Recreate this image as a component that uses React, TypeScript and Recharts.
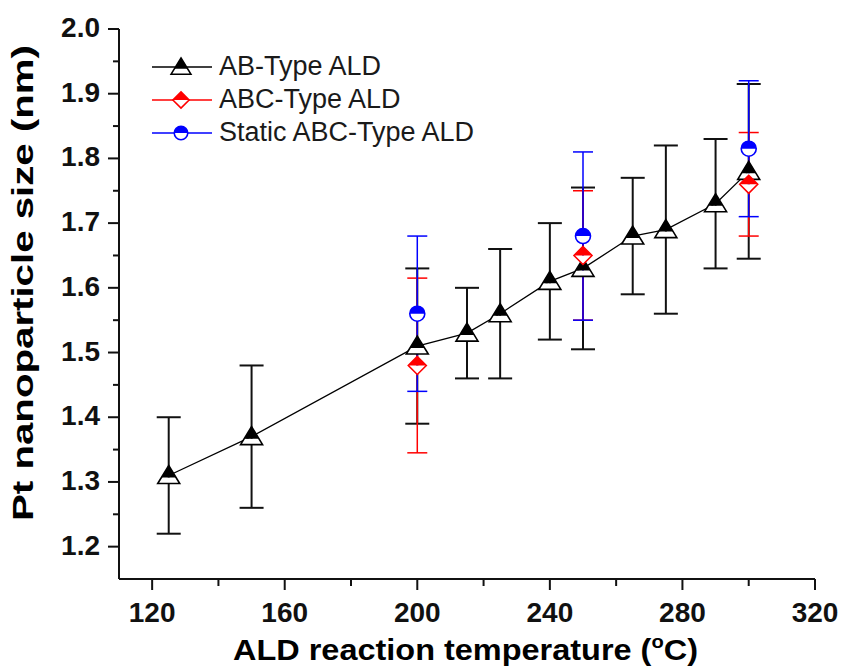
import {
  ComposedChart,
  ErrorBar,
  Legend,
  Scatter,
  XAxis,
  YAxis,
} from "recharts";

// AB-Type ALD
const abTemps = [125, 150, 200, 215, 225, 240, 250, 265, 275, 290, 300];
const abSizes = [1.31, 1.37, 1.51, 1.53, 1.56, 1.61, 1.63, 1.68, 1.69, 1.73, 1.78];
const abErrors = [0.09, 0.11, 0.12, 0.07, 0.1, 0.09, 0.125, 0.09, 0.13, 0.1, 0.135];

// ABC-Type ALD
const abcTemps = [200, 250, 300];
const abcSizes = [1.48, 1.65, 1.76];
const abcErrors = [0.135, 0.1, 0.08];

// Static ABC-Type ALD
const staticTemps = [200, 250, 300];
const staticSizes = [1.56, 1.68, 1.815];
const staticErrors = [0.12, 0.13, 0.105];

const xMajor = [120, 160, 200, 240, 280, 320];
const xTicks = [120, 140, 160, 180, 200, 220, 240, 260, 280, 300, 320];
const yMajor = [1.2, 1.3, 1.4, 1.5, 1.6, 1.7, 1.8, 1.9, 2.0];
const yTicks = [1.2, 1.25, 1.3, 1.35, 1.4, 1.45, 1.5, 1.55, 1.6, 1.65, 1.7, 1.75, 1.8, 1.85, 1.9, 1.95, 2.0];

const FONT = "'Liberation Sans', Arial, sans-serif";
const AXIS = "#111";

function toRows(t: number[], s: number[], e: number[]) {
  return t.map((v, i) => ({ t: v, s: s[i], e: e[i] }));
}

const abData = toRows(abTemps, abSizes, abErrors);
const abcData = toRows(abcTemps, abcSizes, abcErrors);
const staticData = toRows(staticTemps, staticSizes, staticErrors);

const isMajor = (list: number[], v: number) =>
  list.some((m) => Math.abs(m - v) < 1e-6);

function Triangle({ cx, cy, scale = 1 }: any) {
  if (cx == null || cy == null) return <g />;
  const top = cy - 10 * scale;
  const base = cy + 8 * scale;
  const half = 11 * scale;
  const mid = cy + 2 * scale;
  const midHalf = (half * (mid - top)) / (base - top);
  return (
    <g>
      <polygon
        points={`${cx - half},${base} ${cx + half},${base} ${cx + midHalf},${mid} ${cx - midHalf},${mid}`}
        fill="#fff"
      />
      <polygon points={`${cx},${top} ${cx + midHalf},${mid} ${cx - midHalf},${mid}`} fill="#000" />
      <polygon
        points={`${cx},${top} ${cx + half},${base} ${cx - half},${base}`}
        fill="none"
        stroke="#000"
        strokeWidth={1.6}
      />
    </g>
  );
}

function Diamond({ cx, cy, scale = 1 }: any) {
  if (cx == null || cy == null) return <g />;
  const r = 9 * scale;
  return (
    <g>
      <polygon points={`${cx - r},${cy} ${cx},${cy + r} ${cx + r},${cy}`} fill="#fff" />
      <polygon points={`${cx - r},${cy} ${cx},${cy - r} ${cx + r},${cy}`} fill="#ff0000" />
      <polygon
        points={`${cx},${cy - r} ${cx + r},${cy} ${cx},${cy + r} ${cx - r},${cy}`}
        fill="none"
        stroke="#ff0000"
        strokeWidth={1.6}
      />
    </g>
  );
}

function HalfCircle({ cx, cy, scale = 1 }: any) {
  if (cx == null || cy == null) return <g />;
  const r = 7.5 * scale;
  return (
    <g>
      <circle cx={cx} cy={cy} r={r} fill="#fff" />
      <path d={`M ${cx - r} ${cy} A ${r} ${r} 0 0 1 ${cx + r} ${cy} Z`} fill="#0000ff" />
      <circle cx={cx} cy={cy} r={r} fill="none" stroke="#0000ff" strokeWidth={1.6} />
    </g>
  );
}

const legendItems = [
  { name: "AB-Type ALD", color: "#000", Marker: Triangle },
  { name: "ABC-Type ALD", color: "#ff0000", Marker: Diamond },
  { name: "Static ABC-Type ALD", color: "#0000ff", Marker: HalfCircle },
];

function LegendBox() {
  return (
    <svg width={360} height={110} style={{ display: "block" }}>
      {legendItems.map((item, i) => {
        const y = 15 + i * 33;
        return (
          <g key={item.name}>
            <line x1={2} x2={62} y1={y} y2={y} stroke={item.color} strokeWidth={1.5} />
            <item.Marker cx={31} cy={y} scale={0.9} />
            <text x={69} y={y + 8} fontSize={27} fontFamily={FONT} fill="#1a1a1a">
              {item.name}
            </text>
          </g>
        );
      })}
    </svg>
  );
}

function BottomTick({ x, y, payload }: any) {
  const major = isMajor(xMajor, payload.value);
  return (
    <g>
      <line x1={x} x2={x} y1={y} y2={y + (major ? 11 : 7)} stroke={AXIS} strokeWidth={2} />
      {major && (
        <text x={x} y={y + 43} textAnchor="middle" fontSize={28} fontWeight="bold" fontFamily={FONT} fill="#111">
          {payload.value}
        </text>
      )}
    </g>
  );
}

function TopTick({ x, y, payload }: any) {
  const major = isMajor(xMajor, payload.value);
  return <line x1={x} x2={x} y1={y} y2={y + (major ? 11 : 7)} stroke={AXIS} strokeWidth={2} />;
}

function LeftTick({ x, y, payload }: any) {
  const major = isMajor(yMajor, payload.value);
  return (
    <g>
      <line x1={x} x2={x - (major ? 11 : 6)} y1={y} y2={y} stroke={AXIS} strokeWidth={2} />
      {major && (
        <text x={x - 19} y={y + 8} textAnchor="end" fontSize={28} fontWeight="bold" fontFamily={FONT} fill="#111">
          {Number(payload.value).toFixed(1)}
        </text>
      )}
    </g>
  );
}

function RightTick({ x, y, payload }: any) {
  const major = isMajor(yMajor, payload.value);
  return <line x1={x} x2={x - (major ? 12 : 6)} y1={y} y2={y} stroke={AXIS} strokeWidth={2} />;
}

function XTitle() {
  return (
    <text
      x={233}
      y={660}
      fontSize={29}
      fontWeight="bold"
      fontFamily={FONT}
      fill="#000"
      textLength={465}
      lengthAdjust="spacingAndGlyphs"
    >
      ALD reaction temperature (
      <tspan fontSize={18} dy={-12}>o</tspan>
      <tspan dy={12}>C)</tspan>
    </text>
  );
}

function YTitle() {
  const cy = 283;
  return (
    <text
      x={33}
      y={cy}
      transform={`rotate(-90, 33, ${cy})`}
      textAnchor="middle"
      fontSize={29}
      fontWeight="bold"
      fontFamily={FONT}
      fill="#000"
      textLength={476}
      lengthAdjust="spacingAndGlyphs"
    >
      Pt nanoparticle size (nm)
    </text>
  );
}

export default function App() {
  return (
    <div style={{ position: "absolute", left: 0, top: 0, width: 843, height: 669, background: "#fff" }}>
      <ComposedChart
        width={843}
        height={669}
        margin={{ top: 29, right: 28, bottom: 0, left: 0 }}
      >
        <XAxis
          xAxisId="bottom"
          type="number"
          dataKey="t"
          domain={[110, 320]}
          ticks={xTicks}
          interval={0}
          allowDataOverflow
          height={90}
          tickSize={0}
          tickMargin={0}
          tickLine={false}
          axisLine={{ stroke: AXIS, strokeWidth: 2 }}
          tick={<BottomTick />}
          label={<XTitle />}
        />
        <XAxis
          xAxisId="top"
          orientation="top"
          type="number"
          dataKey="t"
          domain={[110, 320]}
          ticks={xTicks}
          interval={0}
          allowDataOverflow
          height={0}
          tickSize={0}
          tickMargin={0}
          tickLine={false}
          axisLine={{ stroke: AXIS, strokeWidth: 2 }}
          tick={<TopTick />}
        />
        <YAxis
          yAxisId="left"
          type="number"
          dataKey="s"
          domain={[1.15, 2.0]}
          ticks={yTicks}
          interval={0}
          allowDataOverflow
          width={119}
          tickSize={0}
          tickMargin={0}
          tickLine={false}
          axisLine={{ stroke: AXIS, strokeWidth: 2 }}
          tick={<LeftTick />}
          label={<YTitle />}
        />
        <YAxis
          yAxisId="right"
          orientation="right"
          type="number"
          dataKey="s"
          domain={[1.15, 2.0]}
          ticks={yTicks}
          interval={0}
          allowDataOverflow
          width={0}
          tickSize={0}
          tickMargin={0}
          tickLine={false}
          axisLine={{ stroke: AXIS, strokeWidth: 2 }}
          tick={<RightTick />}
        />
        <Legend
          layout="vertical"
          align="center"
          verticalAlign="middle"
          wrapperStyle={{ position: "absolute", left: 150, top: 52, width: 360, height: 110 }}
          content={() => <LegendBox />}
        />
        {/* keeps the top and right frame axes bound */}
        <Scatter
          name="frame"
          data={abData}
          xAxisId="top"
          yAxisId="right"
          shape={() => <g />}
          legendType="none"
          isAnimationActive={false}
        />
        <Scatter
          name="AB-Type ALD"
          data={abData}
          xAxisId="bottom"
          yAxisId="left"
          line={{ stroke: "#000", strokeWidth: 1.3 }}
          lineType="joint"
          shape={<Triangle />}
          isAnimationActive={false}
        >
          <ErrorBar dataKey="e" direction="y" width={12} stroke="#111" strokeWidth={2} />
        </Scatter>
        <Scatter
          name="ABC-Type ALD"
          data={abcData}
          xAxisId="bottom"
          yAxisId="left"
          shape={<Diamond />}
          isAnimationActive={false}
        >
          <ErrorBar dataKey="e" direction="y" width={10} stroke="#ff0000" strokeWidth={1.5} />
        </Scatter>
        <Scatter
          name="Static ABC-Type ALD"
          data={staticData}
          xAxisId="bottom"
          yAxisId="left"
          shape={<HalfCircle />}
          isAnimationActive={false}
        >
          <ErrorBar dataKey="e" direction="y" width={10} stroke="#0000ff" strokeWidth={1.5} />
        </Scatter>
      </ComposedChart>
    </div>
  );
}
